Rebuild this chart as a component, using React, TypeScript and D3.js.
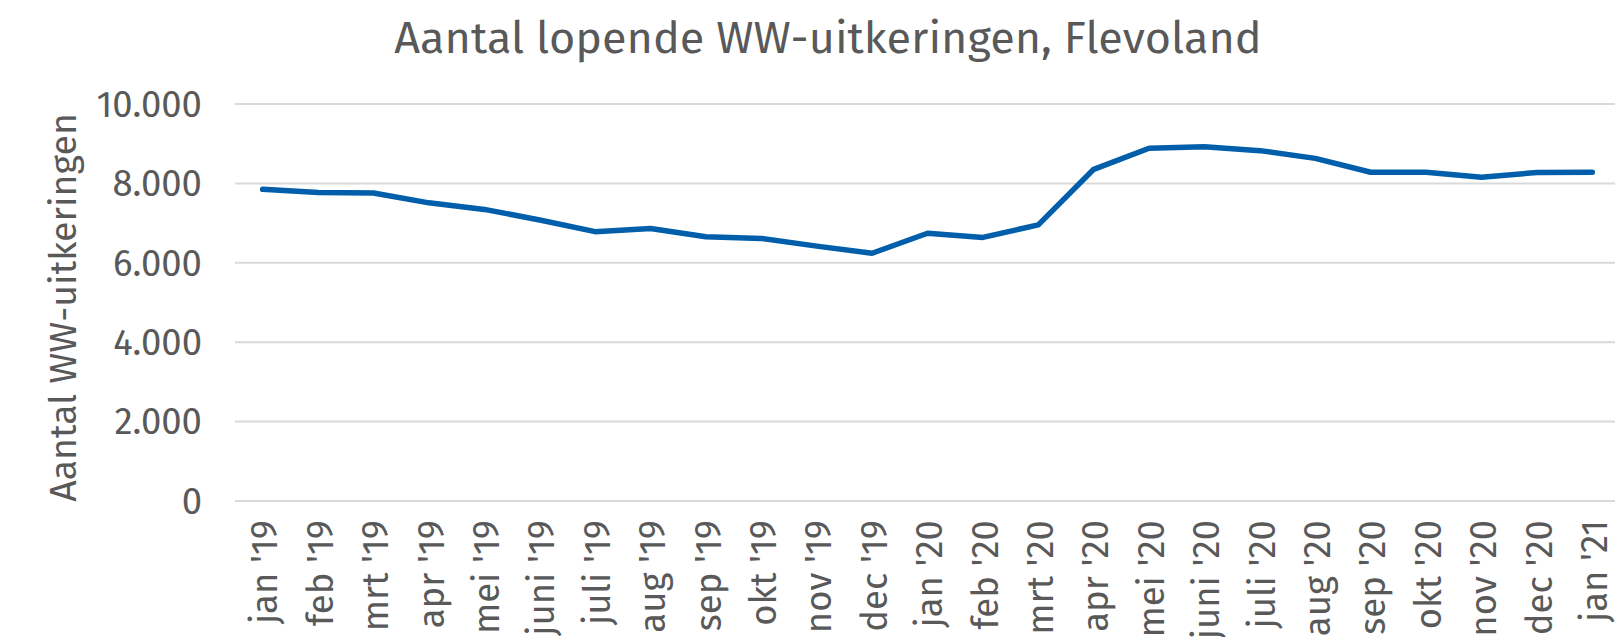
import React from "react";
import * as d3 from "d3";

const months = [
  "jan '19", "feb '19", "mrt '19", "apr '19", "mei '19", "juni '19", "juli '19",
  "aug '19", "sep '19", "okt '19", "nov '19", "dec '19",
  "jan '20", "feb '20", "mrt '20", "apr '20", "mei '20", "juni '20", "juli '20",
  "aug '20", "sep '20", "okt '20", "nov '20", "dec '20", "jan '21",
];

const uitkeringen = [
  7850, 7770, 7760, 7510, 7345, 7080, 6785, 6865, 6655, 6615, 6420, 6240,
  6745, 6640, 6955, 8355, 8885, 8925, 8825, 8630, 8280, 8280, 8155, 8275, 8280,
];

const yTicks = [0, 2000, 4000, 6000, 8000, 10000];

const title = "Aantal lopende WW-uitkeringen, Flevoland";
const yTitle = "Aantal WW-uitkeringen";

const W = 1615;
const H = 637;
const margin = { top: 104, right: -5, bottom: 136, left: 235 };
const font = "'Fira Sans', 'Open Sans', sans-serif";
const textColor = "#595959";

export default function App() {
  const x = d3
    .scaleBand<string>()
    .domain(months)
    .range([margin.left, W - margin.right]);
  const y = d3
    .scaleLinear()
    .domain([0, 10000])
    .range([H - margin.bottom, margin.top]);

  const fmt = (v: number) => d3.format(",")(v).replace(/,/g, ".");

  const line = d3
    .line<number>()
    .x((_, i) => x(months[i])! + x.bandwidth() / 2)
    .y((d) => y(d));

  return (
    <svg
      width={W}
      height={H}
      style={{ position: "absolute", left: 0, top: 0, background: "#fff" }}
      fontFamily={font}
    >
      <text x={828} y={53} textAnchor="middle" fontSize={45} fill={textColor}>
        {title}
      </text>

      {/* gridlines + y labels */}
      {yTicks.map((t) => (
        <g key={t}>
          <line
            x1={margin.left}
            x2={W}
            y1={y(t)}
            y2={y(t)}
            stroke="#d9d9d9"
            strokeWidth={2}
          />
          <text
            x={202}
            y={y(t)}
            dy="0.35em"
            textAnchor="end"
            fontSize={36.5}
            fill={textColor}
          >
            {fmt(t)}
          </text>
        </g>
      ))}

      <text
        transform={`translate(76, ${(margin.top + H - margin.bottom) / 2 + 5}) rotate(-90)`}
        textAnchor="middle"
        fontSize={37.5}
        fill={textColor}
      >
        {yTitle}
      </text>

      {/* x labels */}
      {months.map((m) => (
        <text
          key={m}
          transform={`translate(${x(m)! + x.bandwidth() / 2}, 520) rotate(-90)`}
          textAnchor="end"
          dy="0.4em"
          fontSize={36.5}
          fill={textColor}
        >
          {m}
        </text>
      ))}

      <path
        d={line(uitkeringen) ?? ""}
        fill="none"
        stroke="#005eaa"
        strokeWidth={5.5}
        strokeLinecap="round"
        strokeLinejoin="round"
      />
    </svg>
  );
}
